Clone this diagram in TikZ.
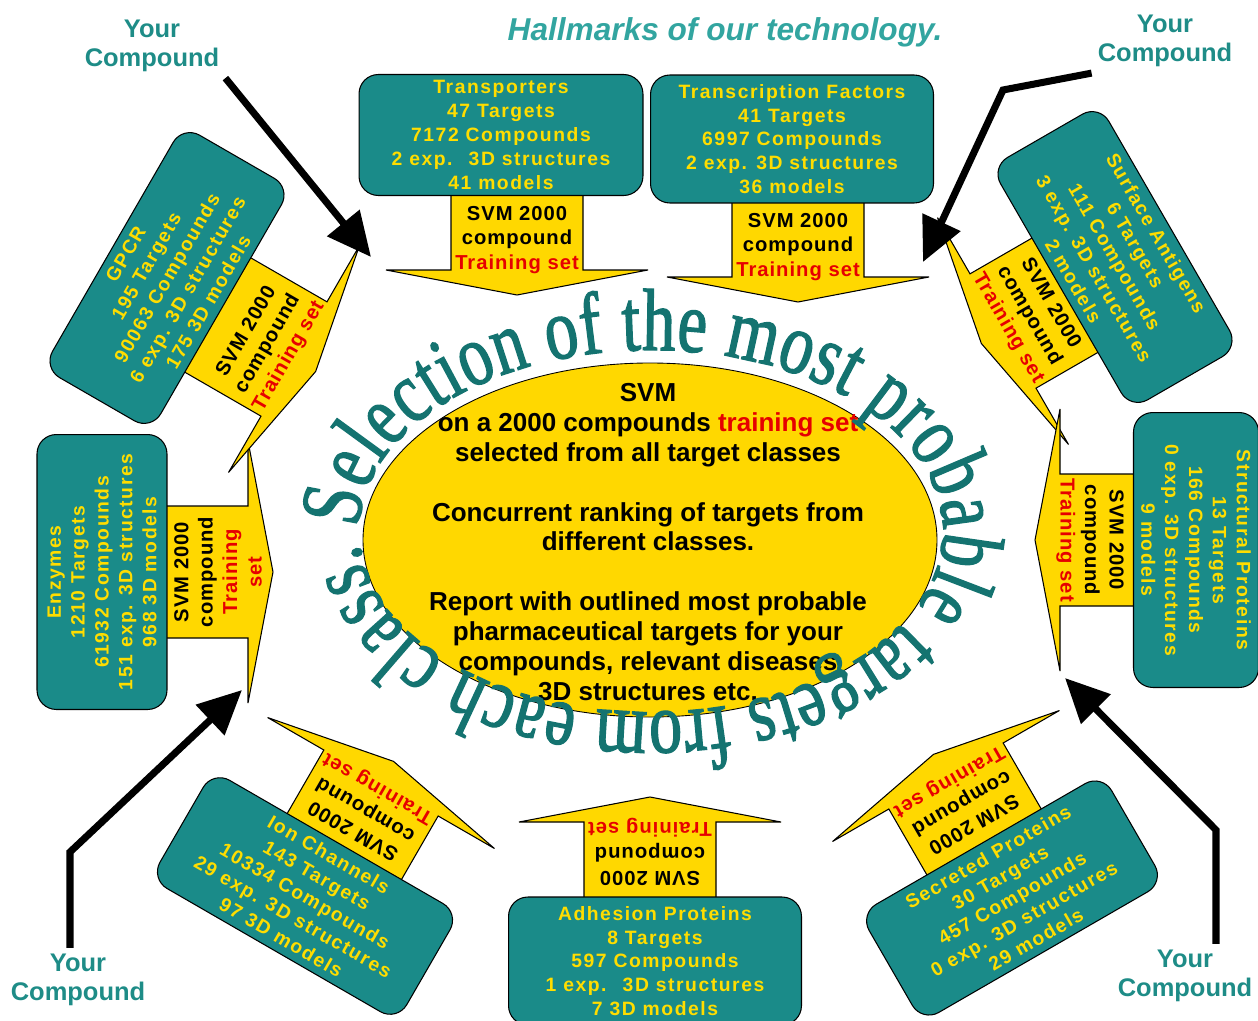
\documentclass[tikz,border=0pt]{standalone}
\usepackage{fontspec}
\setmainfont{Liberation Sans}
\newfontfamily\boxfont[LetterSpace=8]{Liberation Sans}
\newfontfamily\svmfont[LetterSpace=5]{Liberation Sans}
\newfontfamily\arcfont[FakeStretch=0.75, FakeBold=1.5]{Liberation Serif}
\usepackage{tikz}
\usetikzlibrary{arrows.meta, positioning, decorations.text}
\definecolor{BoxTeal}{RGB}{26,139,137}
\definecolor{ArrowGold}{RGB}{255,216,0}
\definecolor{BoxGold}{RGB}{255,221,0}
\definecolor{SetRed}{RGB}{230,0,0}
\definecolor{TitleTeal}{RGB}{50,165,160}
\definecolor{YourTeal}{RGB}{30,140,135}
\definecolor{ArcTeal}{RGB}{20,115,112}

\begin{document}
\begin{tikzpicture}[x=0.02cm, y=0.02cm,
  tbox/.style={draw=black, line width=0.6pt, fill=BoxTeal, text=BoxGold,
               rounded corners=11pt, align=center, inner sep=1pt,
               minimum width=5.6cm, minimum height=2.5cm,
               font=\boxfont\bfseries\fontsize{11}{13.6}\selectfont},
  svmbody/.style={draw=black, line width=0.6pt, fill=ArrowGold, line join=miter},
  svmtext/.style={align=center, inner sep=0pt,
                  font=\svmfont\bfseries\fontsize{11.5}{13.9}\selectfont},
  youtext/.style={text=YourTeal, align=center,
                  font=\bfseries\fontsize{14.5}{16.5}\selectfont},
  hubtext/.style={align=center, font=\bfseries\fontsize{14.8}{17}\selectfont},
  bigarrow/.style={line width=4pt, line join=miter,
                   -{Triangle[length=25pt,width=23pt]}},
]
\useasboundingbox (0,0) rectangle (1258,-1021);

\node[font=\bfseries\itshape\fontsize{18}{20}\selectfont, text=TitleTeal] (title) at (725,-32) {Hallmarks of our technology.};

% central ellipse and the ring of text around it
\draw[draw=black, line width=0.5pt, fill=ArrowGold] (650,-540) ellipse [x radius=287, y radius=177];
\node[hubtext] (hub) at (648,-542) {SVM\\
  on a 2000 compounds \textcolor{SetRed}{training set}\\
  selected from all target classes\\[17pt]
  Concurrent ranking of targets from\\
  different classes.\\[17pt]
  Report with outlined most probable\\
  pharmaceutical targets for your\\
  compounds, relevant diseases\\
  3D structures etc.};
\path[decorate, decoration={text along path, text align={fit to path},
      text={|\arcfont\fontsize{50}{50}\selectfont\color{ArcTeal}|Selection of the most probable targets from each class.}}]
  ([shift={(179:292 and 181)}]651,-531) arc[start angle=179, end angle=-176, x radius=292, y radius=181];

% training-set arrows: head base point, direction, shaft length, name, red lines
\foreach \hx/\hy/\hdir/\hlen/\hname/\redline in {
    517/270/-90/90/aTr/{\textcolor{SetRed}{Training set}},
    798/277/-90/90/aTf/{\textcolor{SetRed}{Training set}},
    1003/331/210/90/aSa/{\textcolor{SetRed}{Training set}},
    1060/540/180/90/aSp/{\textcolor{SetRed}{Training set}},
    946/776/120/90/aSe/{\textcolor{SetRed}{Training set}},
    650/822/90/90/aAd/{\textcolor{SetRed}{Training set}},
    381/783/60/90/aIc/{\textcolor{SetRed}{Training set}},
    248/572/0/90/aEn/{\textcolor{SetRed}{Training}\\\textcolor{SetRed}{set}},
    294/359/-30/90/aGp/{\textcolor{SetRed}{Training set}}}
{
  \begin{scope}[shift={(\hx,-\hy)}, rotate=\hdir]
    \draw[svmbody] (-\hlen,66) -- (0,66) -- (0,131) -- (25,0) -- (0,-131) -- (0,-66) -- (-\hlen,-66) -- cycle;
    \node[svmtext, rotate=\hdir+90] (\hname) at (-30,0) {SVM 2000\\compound\\\redline};
  \end{scope}
}

% target classes
\node[tbox, minimum width=5.68cm, minimum height=2.42cm] (transp) at (501,-135)
  {Transporters\\47 Targets\\7172 Compounds\\2 exp.~ 3D structures\\41 models};
\node[tbox, minimum width=5.66cm, minimum height=2.56cm] (tfac) at (792,-139)
  {Transcription Factors\\41 Targets\\6997 Compounds\\2 exp. 3D structures\\36 models};
\node[tbox, rotate=-60] (surf) at (1115,-257)
  {Surface Antigens\\6 Targets\\111 Compounds\\3 exp. 3D structures\\2 models};
\node[tbox, rotate=-90, minimum width=5.5cm] (struct) at (1196,-550)
  {Structural Proteins\\13 Targets\\166 Compounds\\0 exp. 3D structures\\9 models};
\node[tbox, rotate=30] (secr) at (1012,-898)
  {Secreted Proteins\\30 Targets\\457 Compounds\\0 exp. 3D structures\\29 models};
\node[tbox, minimum width=5.86cm, minimum height=2.56cm] (adh) at (655,-961)
  {Adhesion Proteins\\8 Targets\\597 Compounds\\1 exp.~ 3D structures\\7 3D models};
\node[tbox, rotate=-30, minimum width=5.7cm] (ion) at (305,-896)
  {Ion Channels\\143 Targets\\10334 Compounds\\29 exp. 3D structures\\97 3D models};
\node[tbox, rotate=90, minimum width=5.5cm, minimum height=2.6cm] (enz) at (102,-572)
  {Enzymes\\1210 Targets\\61932 Compounds\\151 exp. 3D structures\\968 3D models};
\node[tbox, rotate=60] (gpcr) at (167,-278)
  {GPCR\\195 Targets\\90063 Compounds\\6 exp. 3D structures\\175 3D models};

% your compound enters from the corners
\node[youtext] (youTL) at (152,-46) {Your\\Compound};
\node[youtext] (youTR) at (1165,-41) {Your\\Compound};
\node[youtext] (youBL) at (78,-980) {Your\\Compound};
\node[youtext] (youBR) at (1185,-976) {Your\\Compound};
\coordinate (tipTL) at (371,-257);
\coordinate (bendTR) at (1003,-90);
\coordinate (tipTR) at (923,-262);
\coordinate (bendBL) at (70,-852);
\coordinate (tipBL) at (242,-690);
\coordinate (bendBR) at (1216,-830);
\coordinate (tipBR) at (1065,-678);
\draw[bigarrow] (youTL.south east) -- (tipTL);
\draw[bigarrow] (youTR.south west) -- (bendTR) -- (tipTR);
\draw[bigarrow] (youBL.north -| bendBL) -- (bendBL) -- (tipBL);
\draw[bigarrow] (youBR.north -| bendBR) -- (bendBR) -- (tipBR);
\end{tikzpicture}
\end{document}
